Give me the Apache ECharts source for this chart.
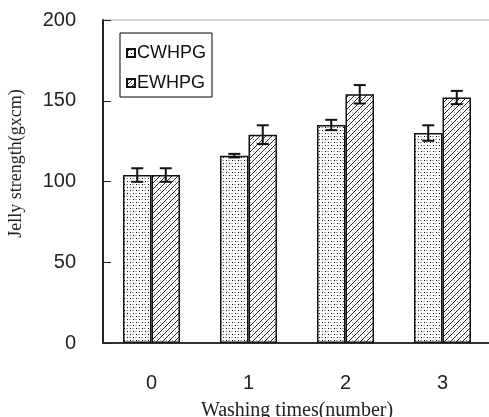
<!DOCTYPE html>
<html>
<head>
<meta charset="utf-8">
<script src="https://cdn.jsdelivr.net/npm/echarts@6/dist/echarts.min.js"></script>
<style>
  html, body { margin: 0; padding: 0; background: #fff; }
  #container { width: 489px; height: 417px; }
</style>
</head>
<body>
<div id="container"></div>
<script>
var categories = ["0", "1", "2", "3"];
var seriesNames = ["CWHPG", "EWHPG"];
var cwhpg = [104, 116, 135, 130];
var cwhpgErr = [4.2, 1.1, 3.2, 4.8];
var ewhpg = [104, 129, 154, 152];
var ewhpgErr = [4.2, 5.8, 5.7, 4.1];
var yTicks = [0, 50, 100, 150, 200];

// 点状填充
function dotPattern() {
  var c = document.createElement("canvas");
  c.width = 6;
  c.height = 6;
  var ctx = c.getContext("2d");
  ctx.fillStyle = "#fff";
  ctx.fillRect(0, 0, 6, 6);
  ctx.fillStyle = "#000";
  ctx.fillRect(1, 1, 1, 1);
  ctx.fillRect(4, 4, 1, 1);
  ctx.fillStyle = "#aaa";
  ctx.fillRect(3, 1, 2, 1);
  ctx.fillRect(0, 4, 2, 1);
  return c;
}
// 斜线填充
function hatchPattern() {
  var c = document.createElement("canvas");
  c.width = 6;
  c.height = 6;
  var ctx = c.getContext("2d");
  ctx.fillStyle = "#fff";
  ctx.fillRect(0, 0, 6, 6);
  ctx.strokeStyle = "#222";
  ctx.lineWidth = 1;
  ctx.beginPath();
  ctx.moveTo(0, 6);
  ctx.lineTo(6, 0);
  ctx.stroke();
  ctx.fillStyle = "#999";
  ctx.fillRect(1, 1, 1, 1);
  ctx.fillRect(4, 4, 1, 1);
  return c;
}

var barW = 28.5;

function errData(vals, errs) {
  return vals.map(function (v, i) {
    return [i, v - errs[i], v + errs[i]];
  });
}

function errRender(offset) {
  return function (params, api) {
    var lo = api.coord([api.value(0), api.value(1)]);
    var hi = api.coord([api.value(0), api.value(2)]);
    var x = lo[0] + offset;
    var half = 6;
    var st = { stroke: "#111", lineWidth: 2 };
    return {
      type: "group",
      children: [
        { type: "line", shape: { x1: x, y1: lo[1], x2: x, y2: hi[1] }, style: st },
        { type: "line", shape: { x1: x - half, y1: lo[1], x2: x + half, y2: lo[1] }, style: st },
        { type: "line", shape: { x1: x - half, y1: hi[1], x2: x + half, y2: hi[1] }, style: st }
      ]
    };
  };
}

var myChart = echarts.init(document.getElementById("container"), null, { renderer: "canvas" });

var option = {
  animation: false,
  backgroundColor: "#fff",
  grid: {
    left: 103,
    top: 20,
    width: 388,
    height: 323,
    containLabel: false,
    outerBoundsMode: "none",
    show: true,
    borderColor: "#aaa",
    borderWidth: 1
  },
  legend: {
    data: seriesNames,
    orient: "vertical",
    left: 120,
    top: 33,
    itemWidth: 8,
    itemHeight: 8,
    itemGap: 12,
    padding: [11, 6, 5, 6],
    borderColor: "#000",
    borderWidth: 1,
    icon: "rect",
    textStyle: { fontFamily: "Liberation Sans", fontSize: 18, color: "#111", padding: [0, 0, 0, -3] }
  },
  xAxis: {
    type: "category",
    data: categories,
    name: "Washing times(number)",
    nameLocation: "middle",
    nameGap: 58,
    nameTextStyle: { fontFamily: "Liberation Serif", fontSize: 20, color: "#222" },
    axisLine: { lineStyle: { color: "#333", width: 2 } },
    axisTick: { inside: true, length: 8, lineStyle: { color: "#333", width: 1 } },
    axisLabel: { fontFamily: "Liberation Sans", fontSize: 20, color: "#222", margin: 30 },
    splitLine: { show: false }
  },
  yAxis: {
    type: "value",
    min: yTicks[0],
    max: yTicks[yTicks.length - 1],
    interval: 50,
    name: "Jelly strength(gxcm)",
    nameLocation: "middle",
    nameGap: 78,
    nameTextStyle: { fontFamily: "Liberation Serif", fontSize: 18, color: "#222", padding: [0, 0, 0, 36] },
    axisLine: { show: true, lineStyle: { color: "#222", width: 2 } },
    axisTick: { show: true, inside: true, length: 8, lineStyle: { color: "#222", width: 1 } },
    axisLabel: { fontFamily: "Liberation Sans", fontSize: 20, color: "#222", margin: 27 },
    splitLine: { show: false }
  },
  series: [
    {
      name: seriesNames[0],
      type: "bar",
      data: cwhpg,
      barWidth: barW,
      barGap: "0%",
      itemStyle: {
        color: { image: dotPattern(), repeat: "repeat" },
        borderColor: "#111",
        borderWidth: 1.5
      }
    },
    {
      name: seriesNames[1],
      type: "bar",
      data: ewhpg,
      barWidth: barW,
      barGap: "0%",
      itemStyle: {
        color: { image: hatchPattern(), repeat: "repeat" },
        borderColor: "#111",
        borderWidth: 1.5
      }
    },
    {
      type: "custom",
      data: errData(cwhpg, cwhpgErr),
      renderItem: errRender(-barW / 2),
      z: 5
    },
    {
      type: "custom",
      data: errData(ewhpg, ewhpgErr),
      renderItem: errRender(barW / 2),
      z: 5
    }
  ]
};

myChart.setOption(option);
</script>
</body>
</html>
